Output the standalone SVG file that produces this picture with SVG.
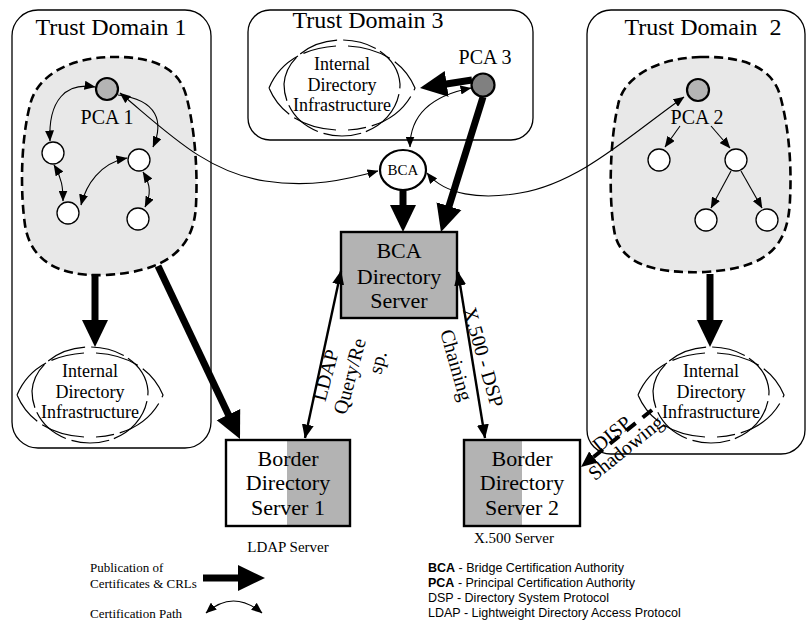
<svg xmlns="http://www.w3.org/2000/svg" width="808" height="623" viewBox="0 0 808 623">
  <style>
    .domain { fill: none; stroke: #000; stroke-width: 1.3; }
    .title { font-family: "Liberation Serif", "Times New Roman", serif; font-size: 24px; fill: #000; }
    .serif { font-family: "Liberation Serif", "Times New Roman", serif; fill: #000; }
    .blob { fill: #e8e8e8; stroke: #000; stroke-width: 2.6; stroke-dasharray: 9 5; }
    .ca { fill: #fff; stroke: #000; stroke-width: 1.3; }
    .pca { fill: #b4b4b4; stroke: #000; stroke-width: 2.2; }
    .box { fill: none; stroke: #000; stroke-width: 2.4; }
    .shade { fill: #b3b3b3; }
    .cloud { fill: none; stroke: #000; stroke-width: 1.2; }
    .thick { fill: none; stroke: #000; stroke-width: 7; marker-end: url(#head-thick); }
    .path { fill: none; stroke: #000; stroke-width: 1.1; marker-start: url(#head-thin); marker-end: url(#head-thin); }
    .one { fill: none; stroke: #000; stroke-width: 1.1; marker-end: url(#head-thin); }
    .proto { fill: none; stroke: #000; stroke-width: 2.4; marker-start: url(#head-mid); marker-end: url(#head-mid); }
    .lbl { font-family: "Liberation Serif", "Times New Roman", serif; font-size: 20px; text-anchor: middle; }
    .key { font-family: "Liberation Sans", Arial, sans-serif; font-size: 12.5px; }
  </style>
  <defs>
    <marker id="head-thick" markerUnits="userSpaceOnUse" markerWidth="28" markerHeight="28" viewBox="0 0 28 28" refX="2" refY="14" orient="auto">
      <path d="M0,1 L27,14 L0,27 z" fill="#000"/>
    </marker>
    <marker id="head-thin" markerUnits="userSpaceOnUse" markerWidth="11" markerHeight="9" viewBox="0 0 11 9" refX="10.5" refY="4.5" orient="auto-start-reverse">
      <path d="M0,0 L11,4.5 L0,9 z" fill="#000"/>
    </marker>
    <marker id="head-mid" markerUnits="userSpaceOnUse" markerWidth="14" markerHeight="12" viewBox="0 0 14 12" refX="13.5" refY="6" orient="auto-start-reverse">
      <path d="M0,0 L14,6 L0,12 z" fill="#000"/>
    </marker>
    <marker id="head-disp" markerUnits="userSpaceOnUse" markerWidth="16" markerHeight="14" viewBox="0 0 16 14" refX="1" refY="7" orient="auto">
      <path d="M0,0 L16,7 L0,14 z" fill="#000"/>
    </marker>
    <!-- hand-drawn style directory cloud, centred on the origin -->
    <g id="cloud-shape">
      <path class="cloud" d="M-58,-4 C-56,-30 -30,-48 0,-48 C30,-48 56,-30 58,-4 C58,26 32,48 0,48 C-32,48 -58,26 -58,-4 Z" stroke-dasharray="30 5 40 6 34 5 44 6 52 5 38 6 40 5"/>
      <path class="cloud" d="M-73,0 C-62,-26 -38,-40 -6,-42 M6,-42 C38,-40 62,-26 73,0 C62,26 38,40 6,42 M-6,42 C-38,40 -62,26 -73,0" stroke-dasharray="44 6 36 7 50 6 40 7"/>
    </g>
  </defs>

  <!-- Trust Domain 1 -->
  <g id="trust-domain-1">
    <rect class="domain" x="12" y="10" width="199" height="438" rx="26"/>
    <text class="title" x="111" y="35" text-anchor="middle">Trust Domain 1</text>
  </g>
  <g id="td1-hierarchy">
    <path class="blob" d="M110,57 C150,56 178,66 186,95 C194,125 198,165 196,205 C194,250 165,272 105,275 C55,277 30,258 25,225 C20,190 21,140 30,105 C37,75 70,58 110,57 Z"/>
    <circle class="pca" cx="107" cy="89" r="11"/>
    <text class="serif" x="107" y="124" font-size="20" text-anchor="middle">PCA 1</text>
    <circle class="ca" cx="53" cy="153" r="11"/>
    <circle class="ca" cx="139" cy="160" r="11"/>
    <circle class="ca" cx="68" cy="213" r="11"/>
    <circle class="ca" cx="138" cy="219" r="11"/>
  </g>
  <g id="td1-directory">
    <use href="#cloud-shape" transform="translate(90,395)"/>
    <text class="serif" font-size="18" text-anchor="middle"><tspan x="90" y="377">Internal</tspan><tspan x="90" y="398">Directory</tspan><tspan x="90" y="418">Infrastructure</tspan></text>
  </g>

  <!-- Trust Domain 3 -->
  <g id="trust-domain-3">
    <rect class="domain" x="248" y="10" width="285" height="130" rx="22"/>
    <text class="title" x="368" y="28" text-anchor="middle">Trust Domain 3</text>
  </g>
  <g id="td3-directory">
    <use href="#cloud-shape" transform="translate(342,88)"/>
    <text class="serif" font-size="18" text-anchor="middle"><tspan x="342" y="70">Internal</tspan><tspan x="342" y="91">Directory</tspan><tspan x="342" y="111">Infrastructure</tspan></text>
  </g>
  <g id="pca-3">
    <circle cx="483" cy="85" r="11.5" fill="#808080" stroke="#000" stroke-width="2.2"/>
    <text class="serif" x="485" y="64" font-size="20" text-anchor="middle">PCA 3</text>
  </g>

  <!-- Trust Domain 2 -->
  <g id="trust-domain-2">
    <rect class="domain" x="587" y="10" width="218" height="444" rx="24"/>
    <text class="title" x="703" y="35" text-anchor="middle" xml:space="preserve">Trust Domain  2</text>
  </g>
  <g id="td2-hierarchy">
    <path class="blob" d="M700,57 C745,56 772,68 780,95 C788,125 792,160 790,200 C788,245 770,268 705,272 C650,274 622,262 615,235 C608,200 610,140 618,105 C624,75 660,58 700,57 Z"/>
    <circle class="pca" cx="698" cy="90" r="11"/>
    <text class="serif" x="697" y="124" font-size="20" text-anchor="middle">PCA 2</text>
    <circle class="ca" cx="659" cy="160" r="11"/>
    <circle class="ca" cx="736" cy="160" r="11"/>
    <circle class="ca" cx="706" cy="220" r="11"/>
    <circle class="ca" cx="767" cy="220" r="11"/>
  </g>
  <g id="td2-directory">
    <use href="#cloud-shape" transform="translate(711,395)"/>
    <text class="serif" font-size="18" text-anchor="middle"><tspan x="711" y="377">Internal</tspan><tspan x="711" y="398">Directory</tspan><tspan x="711" y="418">Infrastructure</tspan></text>
  </g>

  <!-- Bridge CA and directory servers -->
  <g id="bca">
    <ellipse cx="403" cy="170" rx="23" ry="20" fill="#fff" stroke="#000" stroke-width="2.2"/>
    <text class="serif" x="403" y="175" font-size="15" text-anchor="middle">BCA</text>
  </g>
  <g id="bca-directory-server">
    <rect class="shade" x="341" y="232" width="116" height="86"/>
    <rect class="box" x="341" y="232" width="116" height="86"/>
    <text class="serif" font-size="22" text-anchor="middle"><tspan x="399" y="258">BCA</tspan><tspan x="399" y="284">Directory</tspan><tspan x="399" y="308">Server</tspan></text>
  </g>
  <g id="border-server-1">
    <rect x="226" y="440" width="124" height="86" fill="#fff"/>
    <rect class="shade" x="287" y="440" width="63" height="86"/>
    <rect class="box" x="226" y="440" width="124" height="86"/>
    <text class="serif" font-size="22" text-anchor="middle"><tspan x="288" y="466">Border</tspan><tspan x="288" y="490">Directory</tspan><tspan x="288" y="515">Server 1</tspan></text>
    <text class="serif" x="288" y="552" font-size="15" text-anchor="middle">LDAP Server</text>
  </g>
  <g id="border-server-2">
    <rect x="464" y="440" width="116" height="86" fill="#fff"/>
    <rect class="shade" x="464" y="440" width="58" height="86"/>
    <rect class="box" x="464" y="440" width="116" height="86"/>
    <text class="serif" font-size="22" text-anchor="middle"><tspan x="522" y="466">Border</tspan><tspan x="522" y="490">Directory</tspan><tspan x="522" y="515">Server 2</tspan></text>
    <text class="serif" x="514" y="543" font-size="15" text-anchor="middle">X.500 Server</text>
  </g>

  <!-- connectors -->
  <g id="connectors">
    <!-- certification paths inside Trust Domain 1 -->
    <path class="path" d="M95,87 C66,82 48,100 50,141"/>
    <path class="one" d="M118,95 C158,100 164,122 153,147"/>
    <path class="path" d="M54,165 C62,178 63,188 63,201"/>
    <path class="path" d="M81,205 C86,185 100,163 127,158"/>
    <path class="path" d="M143,172 C151,185 151,195 145,207"/>
    <!-- hierarchy inside Trust Domain 2 -->
    <path class="one" d="M680,126 L665,147"/>
    <path class="one" d="M711,126 L730,148"/>
    <path class="one" d="M731,171 L711,208"/>
    <path class="one" d="M741,171 L762,208"/>
    <!-- cross-certification with the bridge -->
    <path class="path" d="M120,93 C165,130 205,172 265,181 C310,188 345,180 378,171"/>
    <path class="path" d="M427,173 C445,195 480,200 520,193 C580,183 630,135 684,97"/>
    <path class="path" d="M471,88 C435,95 410,112 410,147"/>
    <!-- publication of certificates and CRLs -->
    <path class="thick" d="M95,274 L95,322"/>
    <path class="thick" d="M158,266 L229.3,416.4"/>
    <path class="thick" d="M710,274 L710,322"/>
    <path class="thick" d="M403,190 L403,207"/>
    <path class="thick" d="M483,97 L448.4,208.1"/>
    <path class="thick" d="M472,80 L444.7,84.2" stroke-width="6"/>
    <!-- directory protocols -->
    <path class="proto" d="M341,271 L305,438"/>
    <path class="proto" d="M458,272 L485,438"/>
    <path d="M652,410 L592.7,457.6" fill="none" stroke="#000" stroke-width="4" stroke-dasharray="12 9" marker-end="url(#head-disp)"/>
    <text class="lbl" transform="translate(332,377) rotate(-75)">LDAP</text>
    <text class="lbl" transform="translate(356,378) rotate(-75)">Query/Re</text>
    <text class="lbl" transform="translate(384,364) rotate(-75)">sp.</text>
    <text class="lbl" transform="translate(477,359) rotate(74)">X.500 - DSP</text>
    <text class="lbl" transform="translate(450,367) rotate(74)">Chaining</text>
    <text class="lbl" transform="translate(616,439) rotate(-39)">DISP</text>
    <text class="lbl" transform="translate(630,453) rotate(-39)">Shadowing</text>
  </g>

  <!-- legend -->
  <g id="legend">
    <text class="serif" font-size="13"><tspan x="90" y="572">Publication of</tspan><tspan x="90" y="588">Certificates &amp; CRLs</tspan></text>
    <path class="thick" d="M203,578 L240,578" stroke-width="8"/>
    <text class="serif" x="90" y="618" font-size="13">Certification Path</text>
    <path class="path" d="M206,613 Q233,589 262,613"/>
    <text class="key"><tspan x="428" y="572"><tspan font-weight="bold">BCA</tspan> - Bridge Certification Authority</tspan><tspan x="428" y="587"><tspan font-weight="bold">PCA</tspan> - Principal Certification Authority</tspan><tspan x="428" y="602">DSP - Directory System Protocol</tspan><tspan x="428" y="617">LDAP - Lightweight Directory Access Protocol</tspan></text>
  </g>
</svg>
